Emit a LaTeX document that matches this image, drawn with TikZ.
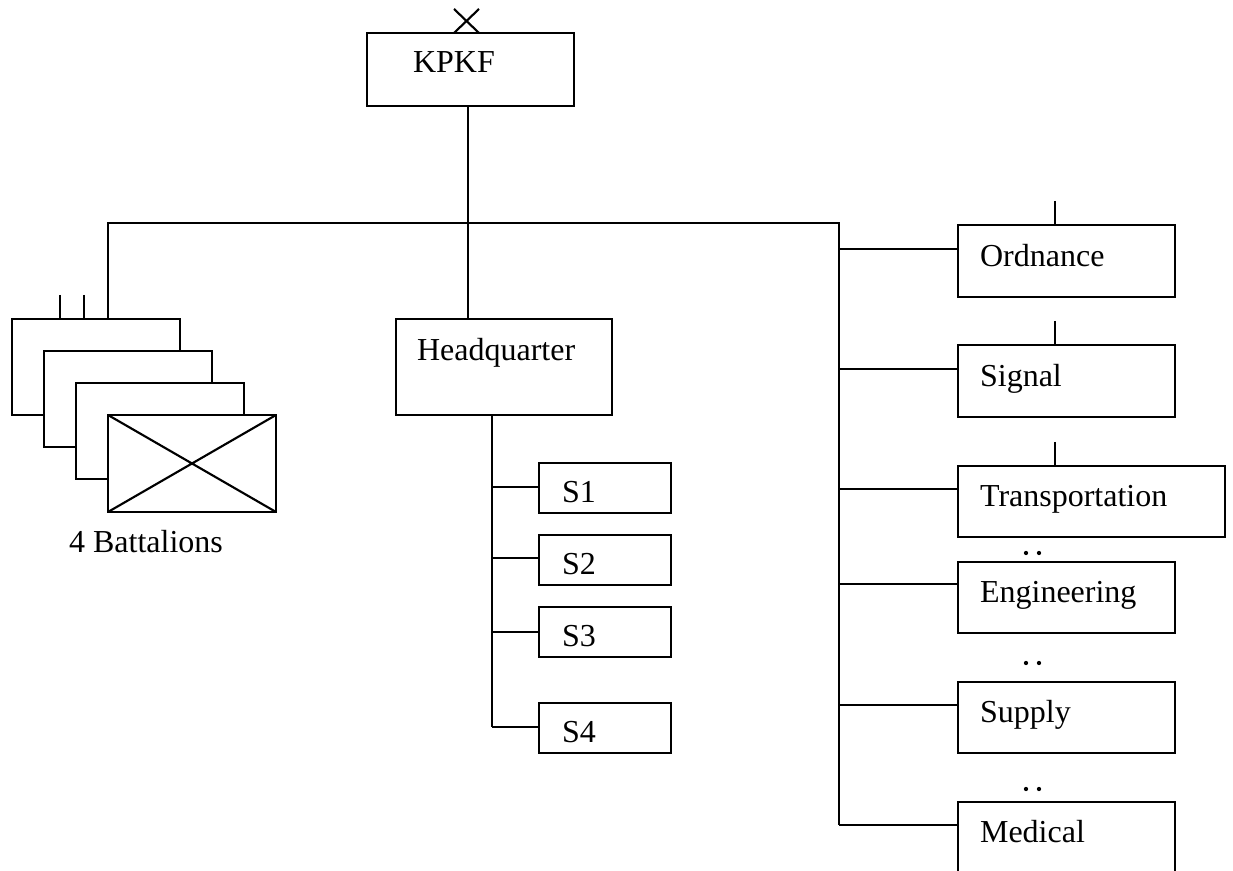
\documentclass[tikz,border=0pt]{standalone}
\usepackage{fontspec}
\setmainfont{Liberation Serif}
\begin{document}
\begin{tikzpicture}[x=0.375pt,y=-0.375pt,line width=0.8pt,
  lbl/.style={anchor=base west,inner sep=0pt,font=\fontsize{12pt}{14pt}\selectfont},
  dotmark/.style={fill=black,circle,inner sep=0pt,minimum size=1.6pt}]
\clip (0,0) rectangle (1233,871);
\newcommand\boxat[5]{\node[draw,line width=0.8pt,fill=white,inner sep=0pt,outer sep=0pt,
  minimum width={(#4-#2)*0.375pt},minimum height={(#5-#3)*0.375pt},anchor=north west] (#1) at (#2,#3) {};}
% KPKF
\boxat{kpkf}{367}{33}{574}{106}
\node[lbl] (kpkft) at (412,73) {KPKF};
\coordinate (xa) at (454,9); \coordinate (xb) at (479,33);
\coordinate (xc) at (479,9); \coordinate (xd) at (454,33);
\draw (xa) -- (xb) (xc) -- (xd);
% junctions
\coordinate (jc) at (468,223);
\coordinate (jl) at (108,223);
\coordinate (jr) at (839,223);
\coordinate (jrb) at (839,825);
% battalions
\boxat{bat1}{12}{319}{180}{415}
\boxat{bat2}{44}{351}{212}{447}
\boxat{bat3}{76}{383}{244}{479}
\boxat{bat4}{108}{415}{276}{512}
\draw (bat4.north west) -- (bat4.south east) (bat4.north east) -- (bat4.south west);
\coordinate (t1) at (60,295); \coordinate (t2) at (84,295);
\draw (t1) -- (t1 |- bat1.north) (t2) -- (t2 |- bat1.north);
\node[lbl] (batt) at (68,553) {4 Battalions};
% Headquarter
\boxat{hq}{396}{319}{612}{415}
\node[lbl] (hqt) at (416,361) {Headquarter};
\draw (kpkf.south -| jc) -- (hq.north -| jc);
\draw (jl |- bat1.north) -- (jl) -- (jr) -- (jrb);
% S boxes
\coordinate (hb) at (492,415);
\coordinate (hbe) at (492,727);
\draw (hb) -- (hbe);
\boxat{s1}{539}{463}{671}{513}
\boxat{s2}{539}{535}{671}{585}
\boxat{s3}{539}{607}{671}{657}
\boxat{s4}{539}{703}{671}{753}
\node[lbl] (s1t) at (561,503) {S1};
\node[lbl] (s2t) at (561,575) {S2};
\node[lbl] (s3t) at (561,647) {S3};
\node[lbl] (s4t) at (561,743) {S4};
\draw (492,487) -- (s1.west |- 0,487);
\draw (492,558) -- (s2.west |- 0,558);
\draw (492,632) -- (s3.west |- 0,632);
\draw (hbe) -- (s4.west |- hbe);
% right boxes
\boxat{ord}{958}{225}{1175}{297}
\boxat{sig}{958}{345}{1175}{417}
\boxat{tra}{958}{466}{1225}{537}
\boxat{eng}{958}{562}{1175}{633}
\boxat{sup}{958}{682}{1175}{753}
\boxat{med}{958}{802}{1175}{900}
\node[lbl] (ordt) at (979,267) {Ordnance};
\node[lbl] (sigt) at (979,387) {Signal};
\node[lbl] (trat) at (979,507) {Transportation};
\node[lbl] (engt) at (979,603) {Engineering};
\node[lbl] (supt) at (979,723) {Supply};
\node[lbl] (medt) at (979,843) {Medical};
\draw (839,249) -- (ord.west |- 0,249);
\draw (839,369) -- (sig.west |- 0,369);
\draw (839,489) -- (tra.west |- 0,489);
\draw (839,584) -- (eng.west |- 0,584);
\draw (839,705) -- (sup.west |- 0,705);
\draw (jrb) -- (med.west |- jrb);
% ticks
\coordinate (k1) at (1055,201); \coordinate (k2) at (1055,321); \coordinate (k3) at (1055,442);
\draw (k1) -- (k1 |- ord.north) (k2) -- (k2 |- sig.north) (k3) -- (k3 |- tra.north);
% dots
\node[dotmark] (d1) at (1026,553) {}; \node[dotmark] (d2) at (1039,553) {};
\node[dotmark] (d3) at (1026,663) {}; \node[dotmark] (d4) at (1039,663) {};
\node[dotmark] (d5) at (1026,789) {}; \node[dotmark] (d6) at (1039,789) {};
\end{tikzpicture}
\end{document}
